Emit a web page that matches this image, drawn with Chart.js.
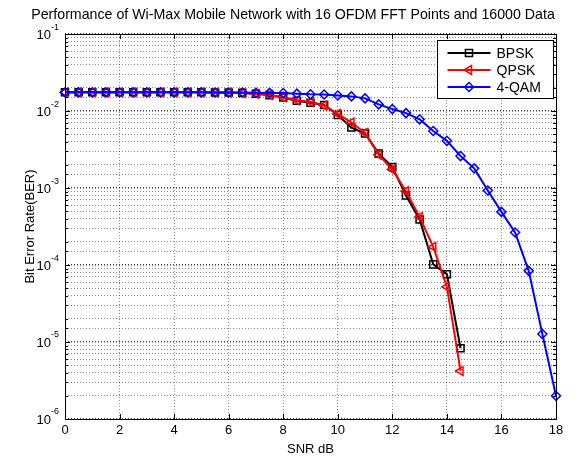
<!DOCTYPE html>
<html>
<head>
<meta charset="utf-8">
<script src="https://cdn.jsdelivr.net/npm/chart.js@4.4.1/dist/chart.umd.min.js"></script>
<style>
html, body { margin: 0; padding: 0; background: #fff; }
</style>
</head>
<body>
<canvas id="myChart" width="576" height="461"></canvas>
<script>
// SNR points (dB)
const snr = [0, 0.5, 1, 1.5, 2, 2.5, 3, 3.5, 4, 4.5, 5, 5.5, 6, 6.5, 7, 7.5, 8, 8.5, 9, 9.5,
    10, 10.5, 11, 11.5, 12, 12.5, 13, 13.5, 14, 14.5, 15, 15.5, 16, 16.5, 17, 17.5, 18];

// BER
const bpsk = [0.0175, 0.0175, 0.0175, 0.0175, 0.0175, 0.0175, 0.0175, 0.0175, 0.0175, 0.0175, 0.0175,
    0.0174, 0.0174, 0.0172, 0.0168, 0.0161, 0.0150, 0.0136, 0.0128, 0.0120,
    0.0089, 0.0061, 0.0051, 0.0028, 0.00188, 0.00080, 0.00039, 0.000102, 0.000076, 0.0000083];
const qpsk = [0.0175, 0.0175, 0.0175, 0.0175, 0.0175, 0.0175, 0.0175, 0.0175, 0.0175, 0.0175, 0.0175,
    0.0174, 0.0173, 0.0171, 0.0167, 0.0162, 0.0151, 0.0138, 0.0132, 0.0118,
    0.0092, 0.0071, 0.0052, 0.0027, 0.00174, 0.00091, 0.00042, 0.000172, 0.000052, 0.0000042];
const qam4 = [0.0175, 0.0175, 0.0175, 0.0175, 0.0175, 0.0175, 0.0175, 0.0175, 0.0175, 0.0175, 0.0175,
    0.0174, 0.0174, 0.0174, 0.0173, 0.0172, 0.0171, 0.0168, 0.0165, 0.0164,
    0.0159, 0.0155, 0.0146, 0.0122, 0.0106, 0.0094, 0.0078, 0.0055, 0.0041, 0.0026,
    0.0018, 0.00093, 0.00049, 0.000264, 0.000084, 0.0000127, 0.000002];

const seriesNames = ['BPSK', 'QPSK', '4-QAM'];
const yDecades = [-6, -5, -4, -3, -2, -1];

const FONT = "'Liberation Sans', Arial, sans-serif";
Chart.defaults.font.family = FONT;
Chart.defaults.font.size = 13;
Chart.defaults.color = '#000';

function toPoints(vals) {
    return vals.map((v, i) => ({ x: snr[i], y: v }));
}

function isDecade(v) {
    const l = Math.log10(v);
    return Math.abs(l - Math.round(l)) < 1e-6;
}

// box, inward ticks, y labels with exponents, legend inside the axes
const matlabAxes = {
    id: 'matlabAxes',
    afterDraw(chart) {
        const { ctx, chartArea: a, scales: { x, y } } = chart;
        ctx.save();
        ctx.strokeStyle = '#000';
        ctx.lineWidth = 1;
        ctx.setLineDash([]);
        ctx.beginPath();
        x.ticks.forEach(t => {
            const px = Math.round(x.getPixelForValue(t.value)) + 0.5;
            ctx.moveTo(px, a.bottom); ctx.lineTo(px, a.bottom - 5);
            ctx.moveTo(px, a.top); ctx.lineTo(px, a.top + 5);
        });
        y.ticks.forEach(t => {
            const py = Math.round(y.getPixelForValue(t.value)) + 0.5;
            const len = isDecade(t.value) ? 5 : 3;
            ctx.moveTo(a.left, py); ctx.lineTo(a.left + len, py);
            ctx.moveTo(a.right, py); ctx.lineTo(a.right - len, py);
        });
        ctx.stroke();
        ctx.strokeRect(Math.round(a.left) + 0.5, Math.round(a.top) + 0.5,
            Math.round(a.width), Math.round(a.height));

        // y tick labels 10^k
        ctx.fillStyle = '#000';
        ctx.textBaseline = 'middle';
        yDecades.forEach(k => {
            const py = y.getPixelForValue(Math.pow(10, k));
            const exp = String(k);
            ctx.font = '9px ' + FONT;
            const ew = ctx.measureText(exp).width;
            const right = a.left - 6;
            ctx.textAlign = 'left';
            ctx.fillText(exp, right - ew, py - 7);
            ctx.font = '13px ' + FONT;
            ctx.textAlign = 'right';
            ctx.fillText('10', right - ew, py + 1);
        });

        // legend
        const lw = 116, lh = 58;
        const lx = Math.round(a.right - 3 - lw) + 0.5;
        const ly = Math.round(a.top + 6) + 0.5;
        ctx.fillStyle = '#fff';
        ctx.fillRect(lx, ly, lw, lh);
        ctx.strokeStyle = '#000';
        ctx.lineWidth = 1;
        ctx.strokeRect(lx, ly, lw, lh);
        chart.data.datasets.forEach((ds, i) => {
            const cy = ly + 12.5 + i * 17;
            ctx.strokeStyle = ds.borderColor;
            ctx.lineWidth = ds.borderWidth;
            ctx.beginPath();
            ctx.moveTo(lx + 10, cy); ctx.lineTo(lx + 53, cy);
            ctx.stroke();
            ctx.fillStyle = 'rgba(0,0,0,0)';
            ctx.lineWidth = ds.pointBorderWidth;
            Chart.helpers.drawPoint(ctx, {
                pointStyle: ds.pointStyle,
                radius: ds.pointRadius,
                rotation: ds.pointRotation || 0,
                borderWidth: ds.pointBorderWidth
            }, lx + 31.5, cy);
            ctx.fillStyle = '#000';
            ctx.font = '14px ' + FONT;
            ctx.textAlign = 'left';
            ctx.textBaseline = 'middle';
            ctx.fillText(seriesNames[i], lx + 59, cy + 1);
        });
        ctx.restore();
    }
};

function makeSeries(label, vals, color, style, radius, rotation, order) {
    return {
        label: label,
        data: toPoints(vals),
        borderColor: color,
        borderWidth: 2,
        pointStyle: style,
        pointRadius: radius,
        pointRotation: rotation,
        pointBorderColor: color,
        pointBorderWidth: 1.5,
        pointBackgroundColor: 'rgba(0,0,0,0)',
        tension: 0,
        clip: false,
        order: order
    };
}

const ctx = document.getElementById('myChart').getContext('2d');
const myChart = new Chart(ctx, {
    type: 'line',
    data: {
        datasets: [
            makeSeries(seriesNames[0], bpsk, '#000000', 'rect', 5, 0, 3),
            makeSeries(seriesNames[1], qpsk, '#ff0000', 'triangle', 5, -90, 2),
            makeSeries(seriesNames[2], qam4, '#0000ff', 'rectRot', 4.5, 0, 1)
        ]
    },
    options: {
        responsive: false,
        animation: false,
        layout: { padding: { top: 0, right: 20, bottom: 0, left: 30 } },
        plugins: {
            legend: { display: false },
            tooltip: { enabled: false },
            title: {
                display: true,
                text: 'Performance of Wi-Max Mobile Network with 16 OFDM FFT Points and 16000 Data',
                font: { size: 14.2, weight: 'normal' },
                color: '#000',
                padding: { top: 7, bottom: 10 }
            }
        },
        scales: {
            x: {
                type: 'linear',
                min: 0,
                max: 18,
                ticks: { stepSize: 2, padding: 4, maxRotation: 0, autoSkip: false, color: '#000' },
                grid: { color: 'rgba(0,0,0,0.45)', lineWidth: 1, drawTicks: false },
                border: { display: false, dash: [1, 2] },
                title: { display: true, text: 'SNR dB', color: '#000', padding: { top: 0, bottom: 4 } },
                afterFit(scale) { scale.height = 42; }
            },
            y: {
                type: 'logarithmic',
                min: 1e-6,
                max: 1e-1,
                ticks: { display: false, autoSkip: false },
                grid: {
                    drawTicks: false,
                    color: c => isDecade(c.tick.value) ? 'rgba(0,0,0,0.75)' : 'rgba(0,0,0,0.45)',
                    lineWidth: c => isDecade(c.tick.value) ? 1.5 : 1
                },
                border: { display: false, dash: [1, 2] },
                title: { display: true, text: 'Bit Error Rate(BER)', color: '#000', padding: { top: -7, bottom: 0 } },
                afterFit(scale) { scale.width = 35; }
            }
        }
    },
    plugins: [matlabAxes]
});
</script>
</body>
</html>
